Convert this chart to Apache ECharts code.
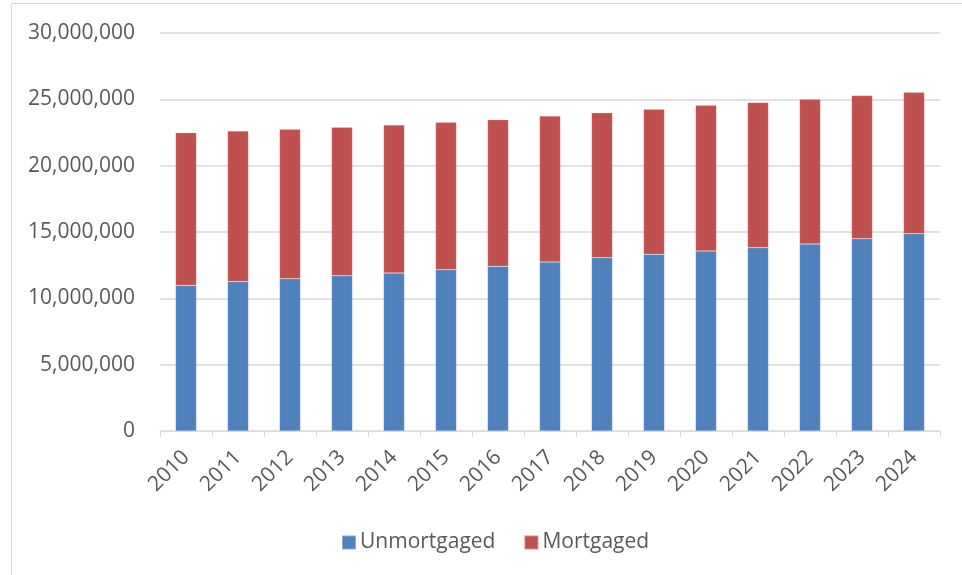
<!DOCTYPE html>
<html>
<head>
<meta charset="utf-8">
<script src="https://cdn.jsdelivr.net/npm/echarts@6/dist/echarts.min.js"></script>
<style>html,body{margin:0;padding:0;background:#fff}#c{width:962px;height:575px}</style>
</head>
<body>
<div id="c"></div>
<script>
const years = ['2010','2011','2012','2013','2014','2015','2016','2017','2018','2019','2020','2021','2022','2023','2024'];
const unmortgaged = [10980000,11260000,11480000,11710000,11910000,12160000,12410000,12740000,13060000,13320000,13570000,13820000,14090000,14500000,14870000];
const mortgaged = [11510000,11350000,11260000,11180000,11160000,11110000,11060000,11000000,10930000,10930000,10980000,10950000,10910000,10780000,10660000];
const yTicks = [0,5000000,10000000,15000000,20000000,25000000,30000000];

const FONT = '"Open Sans", "Noto Sans", sans-serif';
const chart = echarts.init(document.getElementById('c'));
chart.setOption({
  animation: false,
  graphic: [{
    type: 'rect', silent: true,
    shape: {x: 11.5, y: 3.5, width: 1000, height: 1000},
    style: {fill: 'none', stroke: '#d9d9d9', lineWidth: 1}
  }],
  grid: {left: 160, right: 22, top: 33, bottom: 144},
  legend: {
    bottom: 17, left: 336,
    itemWidth: 14, itemHeight: 14, itemGap: 28,
    icon: 'rect',
    textStyle: {fontFamily: FONT, fontSize: 21, color: '#595959', padding: [0,0,0,-1]},
    data: ['Unmortgaged','Mortgaged']
  },
  xAxis: {
    type: 'category', data: years,
    axisLine: {lineStyle: {color: '#d9d9d9', width: 1}},
    axisTick: {show: true, length: 6, lineStyle: {color: '#d9d9d9'}},
    axisLabel: {rotate: 45, fontFamily: FONT, fontSize: 21, color: '#595959', margin: 23, interval: 0}
  },
  yAxis: {
    type: 'value', min: yTicks[0], max: yTicks[yTicks.length-1], interval: 5000000,
    axisLine: {show: false}, axisTick: {show: false},
    splitLine: {lineStyle: {color: '#d9d9d9', width: 1.5}},
    axisLabel: {fontFamily: FONT, fontSize: 21, color: '#595959', margin: 25,
      formatter: v => v.toLocaleString('en-US')}
  },
  series: [
    {name: 'Unmortgaged', type: 'bar', stack: 't', data: unmortgaged, barWidth: 21,
      itemStyle: {color: '#4F81BD', borderColor: 'rgba(255,255,255,0.35)', borderWidth: 0.5}},
    {name: 'Mortgaged', type: 'bar', stack: 't', data: mortgaged, barWidth: 21,
      itemStyle: {color: '#C0504D', borderColor: 'rgba(255,255,255,0.35)', borderWidth: 0.5}}
  ]
});
</script>
</body>
</html>
